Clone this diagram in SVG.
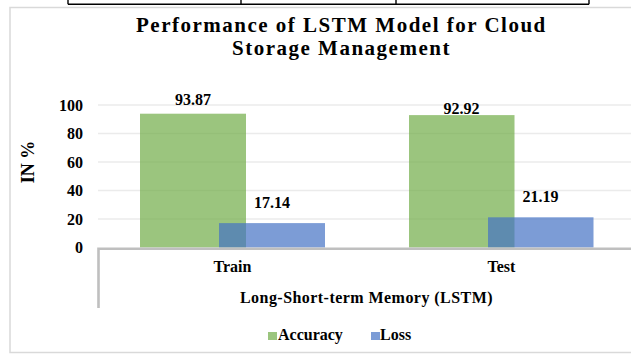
<svg xmlns="http://www.w3.org/2000/svg" width="631" height="354" viewBox="0 0 631 354">
<style>
text{font-family:"Liberation Serif","Times New Roman",serif;font-weight:bold;fill:#000}
.title{font-size:21px;letter-spacing:1.5px}
.val{font-size:16px;text-anchor:middle}
.tick{font-size:16px;text-anchor:end}
.cat{font-size:16px;text-anchor:middle}
.grid{stroke:#ebebeb;stroke-width:1.5}
.acc{fill:#70AD47;fill-opacity:0.7}
.loss{fill:#4472C4;fill-opacity:0.7}
.axis{stroke:#bfbfbf;stroke-width:2.6;fill:none}
</style>
<rect width="631" height="354" fill="#fff"/>
<g id="table-edge" stroke="#000" stroke-width="1.4" fill="none">
<line x1="68" y1="4.3" x2="589" y2="4.3"/>
<line x1="68" y1="0" x2="68" y2="4.3"/>
<line x1="241" y1="0" x2="241" y2="4.3"/>
<line x1="396" y1="0" x2="396" y2="4.3"/>
<line x1="589" y1="0" x2="589" y2="4.3"/>
</g>
<rect id="chart-border" x="10" y="7.5" width="640" height="345" fill="none" stroke="#d9d9d9" stroke-width="1.5"/>
<g id="title">
<text class="title" x="136" y="32">Performance of LSTM Model for Cloud</text>
<text class="title" x="232" y="55">Storage Management</text>
</g>
<g id="gridlines">
<line class="grid" x1="98" y1="105" x2="631" y2="105"/>
<line class="grid" x1="98" y1="133.5" x2="631" y2="133.5"/>
<line class="grid" x1="98" y1="162" x2="631" y2="162"/>
<line class="grid" x1="98" y1="190.5" x2="631" y2="190.5"/>
<line class="grid" x1="98" y1="219" x2="631" y2="219"/>
</g>
<g id="y-axis">
<text class="tick" x="83" y="110.5">100</text>
<text class="tick" x="83" y="139">80</text>
<text class="tick" x="83" y="167.5">60</text>
<text class="tick" x="83" y="196">40</text>
<text class="tick" x="83" y="224.5">20</text>
<text class="tick" x="83" y="253">0</text>
<text x="34" y="162" font-size="18" text-anchor="middle" transform="rotate(-90 34 162)">IN %</text>
</g>
<g id="bars">
<rect id="train-accuracy" class="acc" x="140" y="113.7" width="106" height="133.8"/>
<rect id="train-loss" class="loss" x="219" y="223.1" width="106" height="24.4"/>
<rect id="test-accuracy" class="acc" x="409" y="115.1" width="105.5" height="132.4"/>
<rect id="test-loss" class="loss" x="488" y="217.3" width="105.5" height="30.2"/>
</g>
<g id="value-labels">
<text class="val" x="193" y="105">93.87</text>
<text class="val" x="272" y="208">17.14</text>
<text class="val" x="461.5" y="114">92.92</text>
<text class="val" x="540.5" y="202">21.19</text>
</g>
<g id="axes">
<polyline class="axis" points="98.5,308 98.5,248.8 631,248.8"/>
</g>
<g id="x-axis">
<text class="cat" x="232.5" y="272">Train</text>
<text class="cat" x="501.5" y="272">Test</text>
<text x="240" y="303" font-size="16" letter-spacing="0.45">Long-Short-term Memory (LSTM)</text>
</g>
<g id="legend">
<rect class="acc" x="268" y="332" width="9" height="8"/>
<text x="278" y="340" font-size="16">Accuracy</text>
<rect class="loss" x="371" y="332" width="9" height="8"/>
<text x="380" y="340" font-size="16">Loss</text>
</g>
</svg>
